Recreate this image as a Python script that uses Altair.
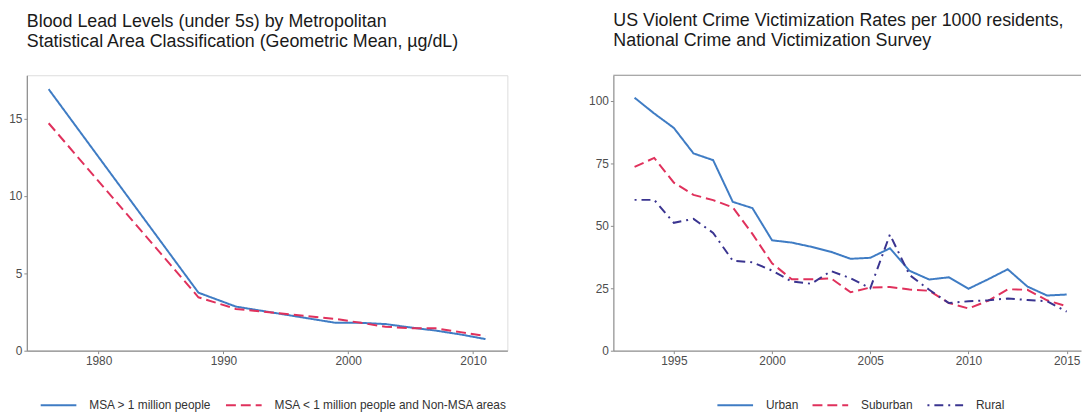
import altair as alt
import pandas as pd

# ---------------- data ----------------
lead_series = ["MSA > 1 million people", "MSA < 1 million people and Non-MSA areas"]
lead_years = [1976, 1988, 1991, 1999, 2001, 2003, 2005, 2007, 2009, 2011]
lead_large = [16.9, 3.75, 2.85, 1.8, 1.8, 1.72, 1.5, 1.3, 1.05, 0.75]
lead_small = [14.7, 3.45, 2.7, 2.05, 1.8, 1.55, 1.45, 1.45, 1.2, 0.95]

crime_series = ["Urban", "Suburban", "Rural"]
crime_years = list(range(1993, 2016))
urban = [101.3, 95.0, 89.2, 79.0, 76.3, 59.6, 57.1, 44.2, 43.3, 41.6, 39.6, 36.8,
         37.2, 41.0, 32.0, 28.5, 29.4, 24.8, 28.6, 32.6, 25.7, 22.1, 22.5]
suburban = [73.6, 77.2, 67.3, 62.4, 60.3, 57.4, 46.8, 35.0, 28.6, 28.6, 29.0, 23.4,
            25.3, 25.5, 24.5, 24.0, 19.1, 16.9, 20.0, 24.6, 24.4, 20.2, 17.8]
rural = [60.4, 60.4, 51.2, 52.8, 47.2, 36.0, 35.4, 32.1, 27.7, 26.8, 31.9, 29.0,
         25.0, 46.5, 30.3, 24.4, 19.1, 19.8, 20.2, 20.9, 20.3, 19.8, 15.6]

lead_x_ticks = [1980, 1990, 2000, 2010]
lead_y_ticks = [0, 5, 10, 15]
crime_x_ticks = [1995, 2000, 2005, 2010, 2015]
crime_y_ticks = [0, 25, 50, 75, 100]

# ---------------- tables ----------------
df_lead = pd.DataFrame(
    [{"year": y, "value": v, "series": lead_series[0]} for y, v in zip(lead_years, lead_large)]
    + [{"year": y, "value": v, "series": lead_series[1]} for y, v in zip(lead_years, lead_small)]
)
rows = []
for name, vals in zip(crime_series, [urban, suburban, rural]):
    rows += [{"year": y, "value": v, "series": name} for y, v in zip(crime_years, vals)]
df_crime = pd.DataFrame(rows)

# ---------------- styles ----------------
FONT = "Liberation Sans"
BLUE = "#3f7cc4"
RED = "#e0315c"
PURPLE = "#3a3490"
BORDER = "#8c8c8c"
TICKLAB = "#4d4d4d"
PW = 485
PH = 278


def axis(values, extent=None, fmt="d"):
    kw = dict(values=values, format=fmt, title=None, grid=False, domain=True,
              domainColor=BORDER, domainWidth=1.2, tickColor=BORDER, tickSize=3,
              tickWidth=1, labelColor=TICKLAB, labelFontSize=12, labelFont=FONT,
              labelPadding=2)
    if extent is not None:
        kw["minExtent"] = extent
        kw["maxExtent"] = extent
    return alt.Axis(**kw)


def legend(x, y, pad):
    return alt.Legend(title=None, orient="none", legendX=x, legendY=y,
                      direction="horizontal", symbolType="stroke", symbolSize=1296,
                      symbolStrokeWidth=2, labelOffset=12, columnPadding=pad,
                      labelFontSize=12, labelColor="#333333", labelFont=FONT,
                      labelLimit=400, padding=0)


def title(lines):
    return alt.TitleParams(text=lines, anchor="start", fontSize=18, font=FONT,
                           color="#1a1a1a", fontWeight="normal", offset=25,
                           lineHeight=20, frame="group")


# ---------------- left chart ----------------
leg_l = legend(13, 314, 10)
left = alt.Chart(df_lead).mark_line(strokeWidth=2).encode(
    x=alt.X("year:Q", scale=alt.Scale(domain=[1974.25, 2012.75], nice=False, zero=False),
            axis=axis(lead_x_ticks)),
    y=alt.Y("value:Q", scale=alt.Scale(domain=[0, 17.8], nice=False),
            axis=axis(lead_y_ticks, extent=18)),
    color=alt.Color("series:N", scale=alt.Scale(domain=lead_series, range=[BLUE, RED]),
                    legend=leg_l),
    strokeDash=alt.StrokeDash("series:N",
                              scale=alt.Scale(domain=lead_series, range=[[1, 0], [10, 5]]),
                              legend=leg_l),
).properties(
    width=PW, height=PH,
    title=title(["Blood Lead Levels (under 5s) by Metropolitan",
                 "Statistical Area Classification (Geometric Mean, \u00b5g/dL)"]),
)

# ---------------- right chart ----------------
RW = 472
leg_r = legend(104, 314, 10)
lines_r = alt.Chart(df_crime).mark_line(strokeWidth=2).encode(
    x=alt.X("year:Q", scale=alt.Scale(domain=[1991.92, 2015.73], nice=False, zero=False),
            axis=axis(crime_x_ticks)),
    y=alt.Y("value:Q", scale=alt.Scale(domain=[0, 110.3], nice=False),
            axis=axis(crime_y_ticks, extent=25)),
    color=alt.Color("series:N",
                    scale=alt.Scale(domain=crime_series, range=[BLUE, RED, PURPLE]),
                    legend=leg_r),
    strokeDash=alt.StrokeDash("series:N",
                              scale=alt.Scale(domain=crime_series,
                                              range=[[1, 0], [10, 5], [2, 5, 9, 5]]),
                              legend=leg_r),
)
top_border = alt.Chart(pd.DataFrame({"a": [0]})).mark_rule(
    color=BORDER, strokeWidth=1.2
).encode(x=alt.value(0), x2=alt.value(RW), y=alt.value(0))

right = alt.layer(lines_r, top_border).properties(
    width=RW, height=PH,
    title=title(["US Violent Crime Victimization Rates per 1000 residents,",
                 "National Crime and Victimization Survey"]),
    view=alt.ViewBackground(stroke=None),
)

chart = alt.hconcat(left, right, spacing=107, bounds="flush").resolve_scale(
    color="independent", strokeDash="independent", x="independent", y="independent"
).properties(
    padding={"left": 0, "top": 2, "right": 0, "bottom": 0}
).configure_view(stroke=BORDER, strokeWidth=1.2).configure(background="white")

chart.save("out.html", embed_options={"renderer": "svg", "actions": False})
